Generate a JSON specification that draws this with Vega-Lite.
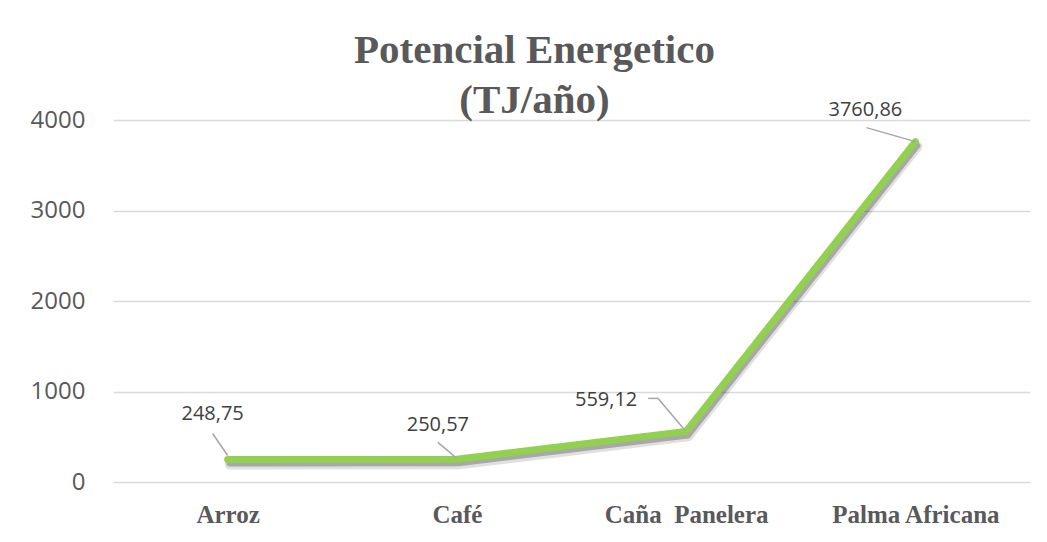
{
  "$schema": "https://vega.github.io/schema/vega-lite/v6.json",
  "autosize": "none",
  "width": 917,
  "height": 362,
  "padding": {"left": 113, "top": 120, "right": 17, "bottom": 60},
  "background": "white",
  "config": {
    "view": {"stroke": null},
    "locale": {"number": {"decimal": ",", "thousands": ".", "grouping": [3], "currency": ["$", ""]}}
  },
  "title": {
    "text": ["Potencial Energetico", "(TJ/año)"],
    "font": "Liberation Serif",
    "fontWeight": "bold",
    "fontSize": 41,
    "lineHeight": 50,
    "color": "#595959",
    "anchor": "middle",
    "frame": "group",
    "dx": -37,
    "baseline": "bottom",
    "offset": -63
  },
  "data": {
    "values": [
      {"cultivo": "Arroz", "potencial": 248.75},
      {"cultivo": "Café", "potencial": 250.57},
      {"cultivo": "Caña  Panelera", "potencial": 559.12},
      {"cultivo": "Palma Africana", "potencial": 3760.86}
    ]
  },
  "encoding": {
    "x": {
      "field": "cultivo",
      "type": "nominal",
      "sort": null,
      "scale": {"type": "point", "padding": 0.5},
      "axis": {
        "title": null,
        "labelAngle": 0,
        "labelFont": "Liberation Serif",
        "labelFontWeight": "bold",
        "labelFontSize": 25,
        "labelColor": "#595959",
        "labelPadding": 20,
        "labelExpr": "replace(datum.label, '  ', '\u00a0 ')",
        "ticks": false,
        "domain": false,
        "grid": false
      }
    },
    "y": {
      "field": "potencial",
      "type": "quantitative",
      "scale": {"domain": [0, 4000]},
      "axis": {
        "title": null,
        "values": [0, 1000, 2000, 3000, 4000],
        "format": "d",
        "labelFont": "Open Sans",
        "labelFontSize": 24,
        "labelColor": "#595959",
        "labelPadding": 28,
        "ticks": false,
        "domain": false,
        "grid": true,
        "gridColor": "#d9d9d9",
        "gridWidth": 1.3
      }
    }
  },
  "layer": [
    {"mark": {"type": "line", "color": "#000000", "opacity": 0.12, "strokeWidth": 10, "xOffset": 2, "yOffset": 5, "strokeCap": "round", "strokeJoin": "round"}},
    {"mark": {"type": "line", "color": "#000000", "opacity": 0.25, "strokeWidth": 6, "xOffset": 2, "yOffset": 4, "strokeCap": "round", "strokeJoin": "round"}},
    {"mark": {"type": "line", "color": "#92D050", "strokeWidth": 7, "strokeCap": "round", "strokeJoin": "round"}},
    {
      "transform": [{"filter": "datum.cultivo === 'Arroz'"}],
      "mark": {"type": "rule", "color": "#a6a6a6", "strokeWidth": 1.5, "xOffset": -15, "yOffset": -26, "x2Offset": 0, "y2Offset": -4},
      "encoding": {"x2": {"field": "cultivo"}, "y2": {"field": "potencial"}}
    },
    {
      "transform": [{"filter": "datum.cultivo === 'Café'"}],
      "mark": {"type": "rule", "color": "#a6a6a6", "strokeWidth": 1.5, "xOffset": -19, "yOffset": -17, "x2Offset": 0, "y2Offset": -1},
      "encoding": {"x2": {"field": "cultivo"}, "y2": {"field": "potencial"}}
    },
    {
      "transform": [{"filter": "datum.cultivo === 'Caña  Panelera'"}],
      "mark": {"type": "rule", "color": "#a6a6a6", "strokeWidth": 1.5, "xOffset": -38, "yOffset": -33, "x2Offset": -28, "y2Offset": -33},
      "encoding": {"x2": {"field": "cultivo"}, "y2": {"field": "potencial"}}
    },
    {
      "transform": [{"filter": "datum.cultivo === 'Caña  Panelera'"}],
      "mark": {"type": "rule", "color": "#a6a6a6", "strokeWidth": 1.5, "xOffset": -28, "yOffset": -33, "x2Offset": -1, "y2Offset": -1},
      "encoding": {"x2": {"field": "cultivo"}, "y2": {"field": "potencial"}}
    },
    {
      "transform": [{"filter": "datum.cultivo === 'Palma Africana'"}],
      "mark": {"type": "rule", "color": "#a6a6a6", "strokeWidth": 1.5, "xOffset": -49, "yOffset": -14, "x2Offset": 0, "y2Offset": 0},
      "encoding": {"x2": {"field": "cultivo"}, "y2": {"field": "potencial"}}
    },
    {
      "transform": [{"filter": "datum.cultivo === 'Arroz'"}],
      "mark": {"type": "text", "font": "Open Sans", "fontSize": 20, "color": "#404040", "align": "center", "baseline": "middle", "dx": -15, "dy": -45},
      "encoding": {"text": {"field": "potencial", "type": "quantitative", "format": ".2f"}}
    },
    {
      "transform": [{"filter": "datum.cultivo === 'Café'"}],
      "mark": {"type": "text", "font": "Open Sans", "fontSize": 20, "color": "#404040", "align": "center", "baseline": "middle", "dx": -19, "dy": -34},
      "encoding": {"text": {"field": "potencial", "type": "quantitative", "format": ".2f"}}
    },
    {
      "transform": [{"filter": "datum.cultivo === 'Caña  Panelera'"}],
      "mark": {"type": "text", "font": "Open Sans", "fontSize": 20, "color": "#404040", "align": "center", "baseline": "middle", "dx": -80, "dy": -31},
      "encoding": {"text": {"field": "potencial", "type": "quantitative", "format": ".2f"}}
    },
    {
      "transform": [{"filter": "datum.cultivo === 'Palma Africana'"}],
      "mark": {"type": "text", "font": "Open Sans", "fontSize": 20, "color": "#404040", "align": "center", "baseline": "middle", "dx": -50, "dy": -32},
      "encoding": {"text": {"field": "potencial", "type": "quantitative", "format": ".2f"}}
    }
  ]
}
